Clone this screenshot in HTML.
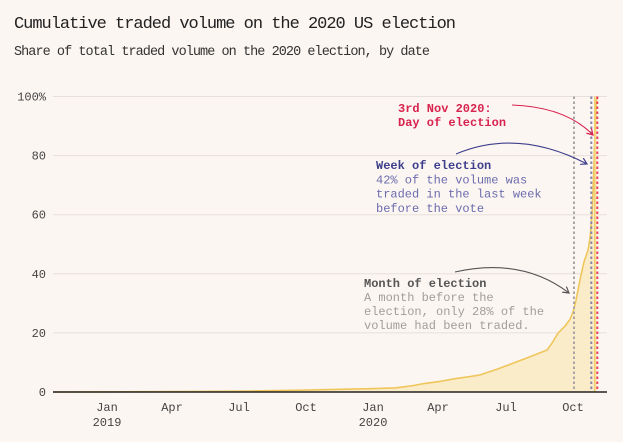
<!DOCTYPE html>
<html><head><meta charset="utf-8"><style>
html,body{margin:0;padding:0;background:#fcf6f2;}
svg{display:block;}
text{font-family:"Liberation Mono","DejaVu Sans Mono",monospace;}
</style></head><body>
<svg width="623" height="442" viewBox="0 0 623 442" xmlns="http://www.w3.org/2000/svg">
<defs>
<marker id="mr" markerWidth="8" markerHeight="8" refX="6" refY="4" orient="auto" markerUnits="userSpaceOnUse"><path d="M0,0.5 L6,4 L0,7.5" fill="none" stroke="#d8234f" stroke-width="1.2"/></marker>
<marker id="mb" markerWidth="8" markerHeight="8" refX="6" refY="4" orient="auto" markerUnits="userSpaceOnUse"><path d="M0,0.5 L6,4 L0,7.5" fill="none" stroke="#3e3f8c" stroke-width="1.2"/></marker>
<marker id="mg" markerWidth="8" markerHeight="8" refX="6" refY="4" orient="auto" markerUnits="userSpaceOnUse"><path d="M0,0.5 L6,4 L0,7.5" fill="none" stroke="#555" stroke-width="1.2"/></marker>
</defs>
<rect width="623" height="442" fill="#fcf6f2"/>
<text x="14" y="28" font-size="17" fill="#222" textLength="442" lengthAdjust="spacing">Cumulative traded volume on the 2020 US election</text>
<text x="14" y="55" font-size="13.5" fill="#333" textLength="416" lengthAdjust="spacing">Share of total traded volume on the 2020 election, by date</text>

<g stroke="#e6dfda" stroke-width="1">
<line x1="53" y1="96.5" x2="607" y2="96.5"/>
<line x1="53" y1="155.6" x2="607" y2="155.6"/>
<line x1="53" y1="214.7" x2="607" y2="214.7"/>
<line x1="53" y1="273.8" x2="607" y2="273.8"/>
<line x1="53" y1="332.9" x2="607" y2="332.9"/>
</g>
<g font-size="12" fill="#444" text-anchor="end">
<text x="46" y="100.5">100%</text>
<text x="46" y="159.6">80</text>
<text x="46" y="218.7">60</text>
<text x="46" y="277.8">40</text>
<text x="46" y="336.9">20</text>
<text x="46" y="396">0</text>
</g>

<path d="M53,392 L150,391.7 L200,391.4 L250,391 L300,390.2 L340,389.3 L370,388.7 L395,387.9 L410,386.1 L425,383.4 L440,381.4 L455,378.7 L470,376.6 L480,374.9 L497,369.2 L513,363.3 L530,356.8 L547,350 L552,343.2 L558,333.2 L565,326.1 L570,319.3 L573,312.2 L576,300.4 L580,279.7 L584,262 L588,250.2 L590,238.3 L592,214.7 L593.5,179.2 L595,132 L596,105.4 L597,96.5 L597,392 Z" fill="#fbebc4" opacity="0.9"/>
<path d="M53,392 L150,391.7 L200,391.4 L250,391 L300,390.2 L340,389.3 L370,388.7 L395,387.9 L410,386.1 L425,383.4 L440,381.4 L455,378.7 L470,376.6 L480,374.9 L497,369.2 L513,363.3 L530,356.8 L547,350 L552,343.2 L558,333.2 L565,326.1 L570,319.3 L573,312.2 L576,300.4 L580,279.7 L584,262 L588,250.2 L590,238.3 L592,214.7 L593.5,179.2 L595,132 L596,105.4 L597,96.5" fill="none" stroke="#efc65c" stroke-width="1.6" stroke-linejoin="round"/>
<line x1="594.8" y1="96.5" x2="594.8" y2="392" stroke="#f3cf6e" stroke-width="1.6"/>

<line x1="574" y1="96.5" x2="574" y2="392" stroke="#aaa6a6" stroke-width="2" stroke-dasharray="2.5 2.5"/>
<line x1="591.3" y1="96.5" x2="591.3" y2="392" stroke="#8784a8" stroke-width="2" stroke-dasharray="2.5 2.5"/>
<line x1="597.3" y1="96.5" x2="597.3" y2="392" stroke="#e8405a" stroke-width="2" stroke-dasharray="2.5 2.5"/>

<line x1="53" y1="392" x2="607" y2="392" stroke="#222" stroke-width="1.4"/>

<g font-size="12" fill="#444" text-anchor="middle">
<text x="107" y="411">Jan</text><text x="107" y="426">2019</text>
<text x="172" y="411">Apr</text>
<text x="239" y="411">Jul</text>
<text x="306" y="411">Oct</text>
<text x="373" y="411">Jan</text><text x="373" y="426">2020</text>
<text x="438" y="411">Apr</text>
<text x="506" y="411">Jul</text>
<text x="573" y="411">Oct</text>
</g>

<g font-size="12" font-weight="bold" fill="#d8234f">
<text x="398" y="112">3rd Nov 2020:</text>
<text x="398" y="126">Day of election</text>
</g>
<path d="M512,105 Q566,107 593,135" fill="none" stroke="#d8234f" stroke-width="1.1" marker-end="url(#mr)"/>

<text x="376" y="169" font-size="12" font-weight="bold" fill="#3e3f8c">Week of election</text>
<g font-size="12" fill="#6b6cae">
<text x="376" y="183.3">42% of the volume was</text>
<text x="376" y="197.6">traded in the last week</text>
<text x="376" y="211.9">before the vote</text>
</g>
<path d="M456,154 Q518,128 587,164" fill="none" stroke="#3e3f8c" stroke-width="1.1" marker-end="url(#mb)"/>

<text x="364" y="287" font-size="12" font-weight="bold" fill="#555">Month of election</text>
<g font-size="12" fill="#a19d9b">
<text x="364" y="301">A month before the</text>
<text x="364" y="315">election, only 28% of the</text>
<text x="364" y="329">volume had been traded.</text>
</g>
<path d="M455,272 Q522,257 569,293" fill="none" stroke="#555" stroke-width="1.1" marker-end="url(#mg)"/>
</svg>
</body></html>
